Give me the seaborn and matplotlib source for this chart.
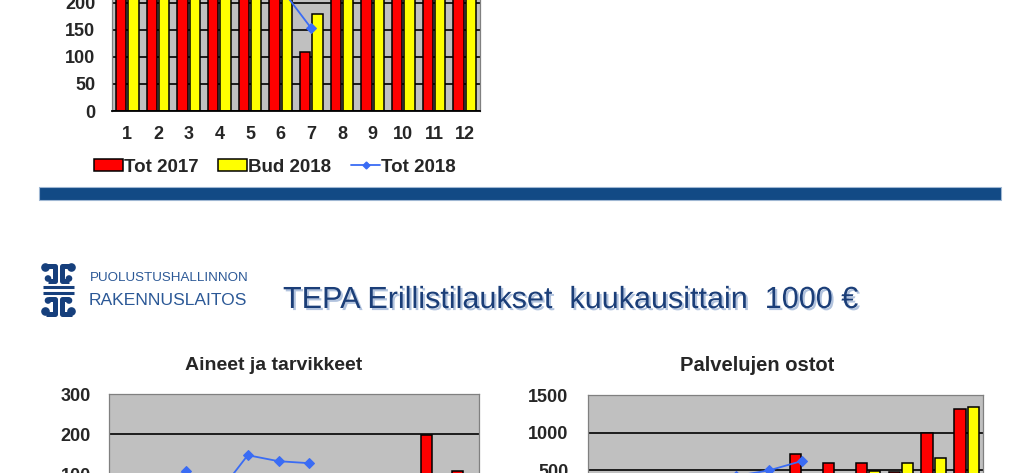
import numpy as np
import pandas as pd
import seaborn as sns
import matplotlib.pyplot as plt
from matplotlib.patches import Rectangle, Patch, Circle
from matplotlib.lines import Line2D
import matplotlib.patheffects as pe

# data (values above the visible area are estimates)
months = [str(m) for m in range(1, 13)]
series = ["Tot 2017", "Bud 2018", "Tot 2018"]

top_tot2017 = [240, 235, 250, 245, 240, 260, 110, 208, 255, 250, 245, 260]
top_bud2018 = [230, 230, 240, 240, 235, 240, 180, 230, 240, 240, 235, 250]
top_tot2018 = [245, 240, 250, 235, 245, 228, 153]

aineet_tot2017 = [60, 50, 70, 60, 80, 70, 40, 60, 70, 80, 198, 108]
aineet_bud2018 = [70, 60, 75, 70, 80, 75, 50, 65, 75, 85, 90, 95]
aineet_tot2018 = [60, 70, 107, 47, 147, 132, 127]

palvelu_tot2017 = [300, 350, 400, 300, 380, 420, 710, 595, 595, 480, 1000, 1310]
palvelu_bud2018 = [300, 320, 350, 330, 380, 400, 420, 440, 487, 595, 660, 1340]
palvelu_tot2018 = [300, 350, 400, 380, 420, 495, 620]

RED = "#ff0000"
YELLOW = "#ffff00"
BLUE = "#3a6cf4"
GREY = "#c0c0c0"
NAVY = "#124a85"

sns.set_theme(style="white")
plt.rcParams["font.family"] = ["Liberation Sans", "DejaVu Sans"]

W, H = 1024, 473
fig = plt.figure(figsize=(W / 100, H / 100), dpi=100)


def px_axes(x0, x1, y_top, y_bot):
    return fig.add_axes([x0 / W, 1 - y_bot / H, (x1 - x0) / W, (y_bot - y_top) / H])


def draw_chart(ax, red, yellow, line, ymax, step, pad, show_x):
    df = pd.DataFrame({
        "month": months * 2,
        "value": red + yellow,
        "series": [series[0]] * 12 + [series[1]] * 12,
    })
    sns.barplot(data=df, x="month", y="value", hue="series", order=months,
                palette=[RED, YELLOW], gap=0.15, edgecolor="black",
                linewidth=1.1, saturation=1, legend=False, ax=ax)
    sns.lineplot(x=np.arange(len(line)), y=line, color=BLUE, marker="D",
                 markersize=5, markeredgecolor=BLUE, linewidth=1.3, ax=ax)
    ax.set_facecolor(GREY)
    ax.set_xlim(-0.5, 11.5)
    ax.set_ylim(0, ymax)
    ax.set_yticks(range(0, ymax + 1, step))
    ax.set_axisbelow(True)
    ax.yaxis.grid(True, color="black", linewidth=1.2)
    ax.get_ygridlines()[-1].set_visible(False)
    ax.set_xlabel("")
    ax.set_ylabel("")
    for s in ax.spines.values():
        s.set_color("#808080")
        s.set_linewidth(0.9)
    ax.spines["bottom"].set_color("black")
    ax.spines["bottom"].set_linewidth(1.3)
    ax.tick_params(axis="y", length=0, pad=pad, labelsize=13)
    ax.tick_params(axis="x", length=0, pad=11, labelsize=13)
    for t in ax.get_yticklabels() + ax.get_xticklabels():
        t.set_fontweight("bold")
    if not show_x:
        ax.set_xticklabels([])


# top chart (cut off by the slide edge)
ax1 = px_axes(112, 480, 111 - 135, 111)
draw_chart(ax1, top_tot2017, top_bud2018, top_tot2018, 250, 50, 12, True)

handles = [Patch(facecolor=RED, edgecolor="black", linewidth=1.1),
           Patch(facecolor=YELLOW, edgecolor="black", linewidth=1.1),
           Line2D([], [], color=BLUE, marker="D", markersize=3.5, linewidth=1.3)]
fig.legend(handles, series, loc="center", bbox_to_anchor=(275 / W, 1 - 167 / H),
           ncol=3, frameon=False, handlelength=1.55, handleheight=0.65,
           handletextpad=0.05, columnspacing=1.05,
           prop={"weight": "bold", "size": 13.5})

# blue separator
fig.add_artist(Rectangle((39 / W, 1 - 200 / H), 962 / W, 13 / H,
                         transform=fig.transFigure, facecolor=NAVY,
                         edgecolor="#9fb7d3", linewidth=0.8))

# logo
lax = fig.add_axes([0, 0, 1, 1], facecolor="none")
lax.set_xlim(0, W)
lax.set_ylim(H, 0)
lax.axis("off")
LC = "#163f7c"
for sgn in (1, -1):
    yc = 289.5
    def yy(v):
        return yc - sgn * v
    for side in (-1, 1):
        xs = 58.5 + side * 3.5
        xe = 58.5 + side * 13
        lax.plot([xe, xs, xs, xe + side * -2.5], [yy(24), yy(24), yy(9), yy(9)],
                 color=LC, linewidth=3.6, solid_capstyle="butt", solid_joinstyle="round")
        lax.add_patch(Circle((xe, yy(22)), 3.6, color=LC))
        lax.add_patch(Circle((xe - side * 2.5, yy(11)), 2.6, color=LC))
    lax.plot([43, 74], [yy(3), yy(3)], color=LC, linewidth=2.2, solid_capstyle="butt")

fig.text(90, 278, "PUOLUSTUSHALLINNON", transform=lax.transData, color="#2b5896",
         fontsize=9.6, va="center", ha="left")
fig.text(89, 300, "RAKENNUSLAITOS", transform=lax.transData, color="#2b5896",
         fontsize=12.6, va="center", ha="left")

title = fig.text(283, 300, "TEPA Erillistilaukset  kuukausittain  1000 €",
                 transform=lax.transData, color="#1b3e78", fontsize=22,
                 va="center", ha="left")
title.set_path_effects([pe.withSimplePatchShadow(offset=(1.5, -1.5),
                                                 shadow_rgbFace="#7f9cc8", alpha=0.6)])

fig.text(274, 365, "Aineet ja tarvikkeet", transform=lax.transData,
         fontsize=14, fontweight="bold", ha="center", va="center")
fig.text(757, 365, "Palvelujen ostot", transform=lax.transData,
         fontsize=14.5, fontweight="bold", ha="center", va="center")

# bottom charts (cut off by the slide edge)
ax2 = px_axes(109, 479, 394, 514)
draw_chart(ax2, aineet_tot2017, aineet_bud2018, aineet_tot2018, 300, 100, 13, False)

ax3 = px_axes(588, 983, 395, 507.5)
draw_chart(ax3, palvelu_tot2017, palvelu_bud2018, palvelu_tot2018, 1500, 500, 14, False)

fig.savefig("out.png", dpi=100, facecolor="white")
